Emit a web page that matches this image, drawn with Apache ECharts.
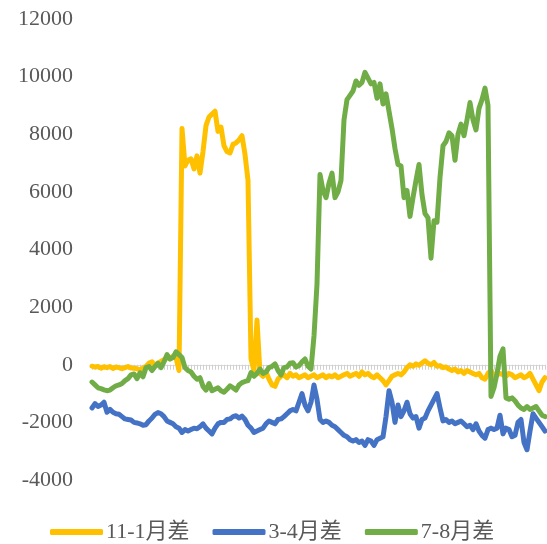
<!DOCTYPE html>
<html><head><meta charset="utf-8">
<script src="https://cdn.jsdelivr.net/npm/echarts@6/dist/echarts.min.js"></script>
<style>html,body{margin:0;padding:0;background:#fff}#c{width:547px;height:544px}</style>
</head><body><div id="c"></div>
<script>
var seriesNames = ['11-1月差', '3-4月差', '7-8月差'];
var yTicks = [-4000, -2000, 0, 2000, 4000, 6000, 8000, 10000, 12000];
var spread11_1 = [-50,-80,-60,-120,-70,-100,-60,-130,-80,-100,-140,-100,-60,-110,-120,-140,-180,-120,-60,60,
100,-20,60,120,180,250,200,300,250,-200,8200,6900,7100,7150,6800,7250,6650,7400,8300,8600,
8700,8800,8100,8250,7600,7400,7350,7650,7700,7800,7950,7300,6400,200,-200,1550,-300,-400,-250,-500,
-700,-750,-500,-400,-350,-450,-300,-400,-350,-450,-400,-350,-450,-400,-350,-450,-400,-350,-450,-380,
-420,-350,-450,-400,-350,-300,-400,-350,-300,-400,-250,-350,-300,-400,-450,-350,-450,-550,-700,-550,
-400,-350,-300,-350,-250,-100,0,-50,30,-20,60,140,50,0,80,-50,-30,-100,-80,-150,
-200,-150,-250,-200,-300,-200,-250,-300,-350,-300,-450,-500,-300,-200,-400,-350,-300,-350,-400,-300,
-350,-450,-400,-350,-450,-400,-300,-500,-700,-900,-600,-450];
var spread3_4 = [-1500,-1350,-1450,-1400,-1300,-1650,-1550,-1650,-1700,-1720,-1800,-1880,-1900,-1920,-2000,-2020,-2050,-2100,-2080,-1950,
-1850,-1720,-1660,-1700,-1800,-1950,-2000,-2050,-2150,-2200,-2350,-2250,-2300,-2250,-2200,-2220,-2150,-2050,-2200,-2300,
-2400,-2200,-2050,-2000,-2000,-1900,-1880,-1800,-1770,-1850,-1780,-1900,-2100,-2200,-2350,-2300,-2250,-2200,-2050,-1950,
-2000,-2050,-1900,-1880,-1800,-1700,-1600,-1550,-1600,-1300,-1000,-1400,-1600,-1300,-700,-1200,-1900,-2000,-1950,-2000,
-2100,-2150,-2250,-2350,-2450,-2500,-2600,-2650,-2600,-2700,-2650,-2800,-2600,-2650,-2800,-2600,-2550,-2500,-1800,-900,
-1300,-2000,-1400,-1800,-1600,-1300,-1700,-1850,-1800,-2200,-1900,-1850,-1600,-1400,-1200,-1000,-1500,-1950,-1900,-2000,
-1950,-2050,-2000,-1950,-2050,-2150,-2100,-2250,-2050,-2300,-2450,-2550,-2250,-2200,-2250,-2200,-1750,-2400,-2200,-2250,
-2500,-2450,-2000,-1900,-2700,-2950,-2300,-1700,-1850,-2000,-2150,-2300];
var spread7_8 = [-600,-700,-800,-830,-870,-900,-880,-800,-730,-700,-650,-550,-480,-350,-320,-480,-280,-420,-100,-60,
-200,-60,50,-100,100,350,200,250,450,350,250,-100,-200,-250,-400,-500,-450,-750,-880,-650,
-900,-850,-800,-900,-950,-850,-730,-800,-880,-700,-620,-580,-550,-270,-400,-300,-150,-300,-250,-100,
-60,30,-200,-350,-100,-80,50,70,-80,-30,100,200,-50,-150,1000,2800,6600,6050,5800,6300,
6650,5800,6000,6400,8500,9200,9350,9500,9850,9700,9800,10150,9950,9750,9800,9250,9750,9050,9400,8800,
8200,7500,6950,6900,5800,6050,5150,5800,6400,6950,5900,5250,5100,3700,5000,4950,6500,7600,7750,8050,
7950,7100,8000,8350,7950,8500,9100,8500,8150,8900,9200,9600,9000,-1100,-800,-300,300,550,-1150,-1200,
-1150,-1250,-1400,-1500,-1550,-1450,-1550,-1500,-1450,-1600,-1750,-1800];
var categories = spread11_1.map(function(_, i){ return String(i + 1); });

var colors = ['#FFC000', '#4472C4', '#70AD47'];
var font = '"Liberation Serif", "Noto Sans CJK SC", serif';
var chart = echarts.init(document.getElementById('c'));
var dataSets = [spread11_1, spread3_4, spread7_8];
chart.setOption({
  animation: false,
  color: colors,
  grid: { left: 92, right: 2, top: 19, bottom: 64, containLabel: false },
  legend: {
    data: seriesNames.map(function(n, i){ return { name: n, icon: 'roundRect', itemStyle: { color: colors[i] } }; }),
    left: 45, top: 516, itemWidth: 53, itemHeight: 6, itemGap: 23,
    textStyle: { fontFamily: font, fontSize: 22, color: '#595959', padding: [0, 0, 0, -2] }
  },
  xAxis: {
    type: 'category', data: categories, boundaryGap: false,
    axisLine: { onZero: true, lineStyle: { color: '#d9d9d9', width: 1 } },
    axisTick: { show: true, interval: 0, length: 5, lineStyle: { color: '#d0d0d0' } },
    axisLabel: { show: false }, splitLine: { show: false }
  },
  yAxis: {
    type: 'value', min: yTicks[0], max: yTicks[yTicks.length - 1], interval: 2000,
    axisLine: { show: false }, axisTick: { show: false }, splitLine: { show: false },
    axisLabel: { margin: 19, fontFamily: font, fontSize: 22, color: '#595959',
      formatter: function(v){ return String(v); } }
  },
  series: seriesNames.map(function(n, i){
    return { name: n, type: 'line', data: dataSets[i], showSymbol: false, symbol: 'none',
      lineStyle: { width: 5, color: colors[i], cap: 'round', join: 'round' }, z: i === 1 ? 2 : (i === 0 ? 3 : 4) };
  })
});
</script></body></html>
